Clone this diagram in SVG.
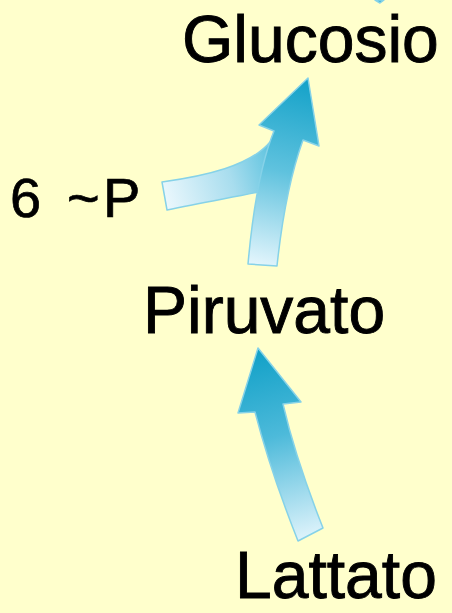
<svg xmlns="http://www.w3.org/2000/svg" width="452" height="613" viewBox="0 0 452 613">
  <defs>
    <linearGradient id="gUp" gradientUnits="userSpaceOnUse" x1="262" y1="266" x2="308" y2="78">
      <stop offset="0" stop-color="#E3F5FC"/>
      <stop offset="0.5" stop-color="#5FC2DE"/>
      <stop offset="1" stop-color="#12A1C8"/>
    </linearGradient>
    <linearGradient id="gSide" gradientUnits="userSpaceOnUse" x1="162" y1="196" x2="275" y2="160">
      <stop offset="0" stop-color="#ECF8FD"/>
      <stop offset="0.6" stop-color="#A8DDEE"/>
      <stop offset="1" stop-color="#5EC3DF"/>
    </linearGradient>
    <linearGradient id="gLow" gradientUnits="userSpaceOnUse" x1="310" y1="541" x2="258" y2="348">
      <stop offset="0" stop-color="#E3F5FC"/>
      <stop offset="0.55" stop-color="#4DBADA"/>
      <stop offset="1" stop-color="#10A0C7"/>
    </linearGradient>
    <style>
      .lbl { font-family: "Liberation Sans", Arial, sans-serif; font-size: 66px; fill: #000; stroke: #000; stroke-width: 0.9px; }
      .small { font-family: "Liberation Sans", Arial, sans-serif; font-size: 56px; fill: #000; stroke: #000; stroke-width: 0.7px; }
      .arr { stroke: #86D2E8; stroke-width: 1.5; stroke-linejoin: round; }
    </style>
  </defs>
  <rect width="452" height="613" fill="#FFFFCC"/>

  <g id="connectors">
    <path class="arr" fill="#3DB4D6" d="M375,0 L384,0 L380,3 Z"/>
    <path id="side-branch" class="arr" fill="url(#gSide)" d="M162,182 C205,176 250,166 270,142 L276,146 L268,190 C240,196 205,202 167,210 Z"/>
    <path id="up-arrow" class="arr" fill="url(#gUp)" d="M248,264 Q256,175 274,131 L259,125 L308,78 L319,146 L303,140 Q285,190 277,266 Z"/>
    <path id="low-arrow" class="arr" fill="url(#gLow)" d="M258,348 L301,402 L283,404 Q296,460 323,528 L298,541 Q270,470 255,412 L238,413 Z"/>
  </g>

  <g id="glucosio"><text class="lbl" x="182" y="62">Glucosio</text></g>
  <g id="piruvato"><text class="lbl" x="143" y="333">Piruvato</text></g>
  <g id="lattato"><text class="lbl" x="235" y="598">Lattato</text></g>
  <g id="six-p"><text class="small" y="217"><tspan x="10">6</tspan><tspan x="67">~</tspan><tspan x="103">P</tspan></text></g>
</svg>
